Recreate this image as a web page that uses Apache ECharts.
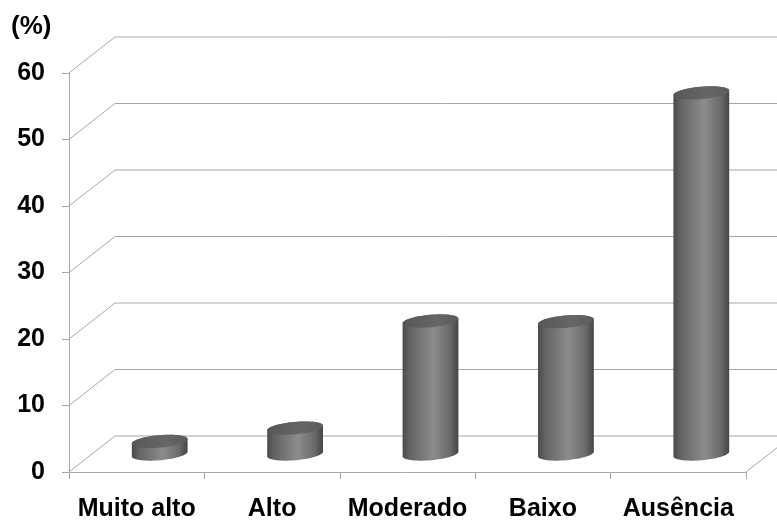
<!DOCTYPE html>
<html>
<head>
<meta charset="utf-8">
<script src="https://cdn.jsdelivr.net/npm/echarts@6/dist/echarts.min.js"></script>
<style>
html,body{margin:0;padding:0;background:#fff;}
#chart{width:777px;height:522px;}
</style>
</head>
<body>
<div id="chart"></div>
<script>
const categories = ['Muito alto', 'Alto', 'Moderado', 'Baixo', 'Ausência'];
const values = [1.9, 3.9, 20.0, 19.9, 54.3];
const yTicks = [0, 10, 20, 30, 40, 50, 60];
const yUnit = '(%)';

const DEPTH_X = 46, DEPTH_Y = -36;
const GRID_COLOR = '#a8a8a8';
const FONT = "'Liberation Sans', Arial, sans-serif";

function ellipsePts(cx, cy, rx, ry, a, t0, t1, n) {
  const pts = [];
  const ca = Math.cos(a), sa = Math.sin(a);
  for (let k = 0; k <= n; k++) {
    const t = t0 + (t1 - t0) * k / n;
    const x = rx * Math.cos(t), y = ry * Math.sin(t);
    pts.push([cx + x * ca - y * sa, cy + x * sa + y * ca]);
  }
  return pts;
}

const chart = echarts.init(document.getElementById('chart'), null, {renderer: 'canvas'});
const option = {
  animation: false,
  backgroundColor: '#ffffff',
  grid: {left: 69, right: 31, top: 73, bottom: 50},
  graphic: [{
    type: 'text', left: 11, top: 14,
    style: {text: yUnit, fontSize: 26, fontWeight: 'bold', fontFamily: FONT, fill: '#000'}
  }],
  xAxis: {
    type: 'category',
    data: categories,
    boundaryGap: true,
    axisLine: {show: true, lineStyle: {color: GRID_COLOR, width: 1}},
    axisTick: {show: true, length: 7, alignWithLabel: false, lineStyle: {color: GRID_COLOR}},
    axisLabel: {color: '#000', fontWeight: 'bold', fontSize: 25, fontFamily: FONT, margin: 25, interval: 0},
    splitLine: {show: false}
  },
  yAxis: {
    type: 'value',
    min: 0, max: 60, interval: 10,
    axisLine: {show: true, lineStyle: {color: GRID_COLOR, width: 1}},
    axisTick: {show: true, length: 7, lineStyle: {color: GRID_COLOR}},
    axisLabel: {color: '#000', fontWeight: 'bold', fontSize: 25, fontFamily: FONT, margin: 24},
    splitLine: {show: false}
  },
  series: [
    {
      type: 'custom',
      silent: true,
      z: 1,
      data: yTicks.map(v => [0, v]),
      renderItem: function (params, api) {
        const cs = params.coordSys;
        const v = api.value(1);
        const y = api.coord([0, v])[1];
        const x0 = cs.x, x1 = cs.x + cs.width;
        const children = [{
          type: 'polyline',
          shape: {points: [[x0, y], [x0 + DEPTH_X, y + DEPTH_Y], [x1 + DEPTH_X, y + DEPTH_Y]]},
          style: {stroke: GRID_COLOR, lineWidth: 1, fill: null}
        }];
        if (v === 0) {
          children.push({
            type: 'line',
            shape: {x1: x1, y1: y, x2: x1 + DEPTH_X, y2: y + DEPTH_Y},
            style: {stroke: GRID_COLOR, lineWidth: 1}
          });
        }
        return {type: 'group', children: children};
      }
    },
    {
      type: 'custom',
      silent: true,
      z: 3,
      data: values.map((v, i) => [i, v]),
      renderItem: function (params, api) {
        const i = api.value(0), v = api.value(1);
        const p0 = api.coord([i, 0]);
        const p1 = api.coord([i, v]);
        const cx = p0[0] + DEPTH_X / 2;
        const yb = p0[1] + DEPTH_Y / 2;
        const yt = p1[1] + DEPTH_Y / 2;
        const rx = 28, ry = 6.2, a = -5 * Math.PI / 180;
        const bottom = ellipsePts(cx, yb, rx, ry, a, Math.PI, 0, 30);
        const topUpper = ellipsePts(cx, yt, rx, ry, a, 0, -Math.PI, 30);
        const body = bottom.concat(topUpper);
        const topFull = ellipsePts(cx, yt, rx, ry, a, 0, 2 * Math.PI, 60);
        return {
          type: 'group',
          children: [
            {
              type: 'polygon',
              shape: {points: body},
              style: {
                fill: {
                  type: 'linear', x: 0, y: 0, x2: 1, y2: 0,
                  colorStops: [
                    {offset: 0, color: '#4a4a4a'},
                    {offset: 0.12, color: '#626262'},
                    {offset: 0.55, color: '#8c8c8c'},
                    {offset: 0.85, color: '#6a6a6a'},
                    {offset: 1, color: '#444444'}
                  ]
                },
                stroke: null
              }
            },
            {
              type: 'polygon',
              shape: {points: topFull},
              style: {
                fill: {
                  type: 'linear', x: 0, y: 0, x2: 1, y2: 0,
                  colorStops: [
                    {offset: 0, color: '#575757'},
                    {offset: 0.6, color: '#666666'},
                    {offset: 1, color: '#5c5c5c'}
                  ]
                },
                stroke: null
              }
            }
          ]
        };
      }
    }
  ]
};
chart.setOption(option);
</script>
</body>
</html>
